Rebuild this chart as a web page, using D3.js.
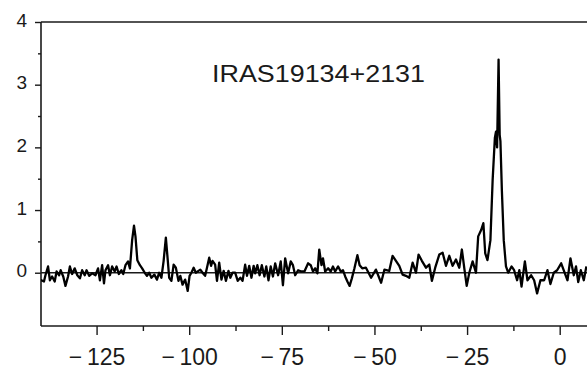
<!DOCTYPE html>
<html>
<head>
<meta charset="utf-8">
<script src="https://cdn.jsdelivr.net/npm/d3@7"></script>
<style>
  html, body { margin: 0; padding: 0; background: #fff; }
  svg { display: block; font-family: "Liberation Sans", Arial, Helvetica, sans-serif; }
</style>
</head>
<body>
<svg id="chart" width="587" height="374"></svg>
<script>
// ---- data ----
const title = "IRAS19134+2131";
const xMajorTicks = [-125, -100, -75, -50, -25, 0];
const xMinorTicks = [-112.5, -87.5, -62.5, -37.5, -12.5];
const yMajorTicks = [0, 1, 2, 3, 4];
const yMinorTicks = [0.5, 1.5, 2.5, 3.5];

const velocity = [
-140.0,-139.9,-139.2,-138.8,-138.1,-137.6,-137.0,-136.3,-135.8,-135.1,
-134.7,-134.0,-133.4,-132.7,-132.2,-131.6,-130.9,-130.2,-129.5,-128.9,
-128.2,-127.7,-127.0,-126.2,-125.3,-124.6,-124.1,-123.5,-123.0,-122.6,
-121.9,-121.4,-120.8,-120.1,-119.6,-119.0,-118.3,-117.8,-117.2,-116.5,
-116.0,-115.4,-114.9,-114.5,-114.0,-113.3,-112.7,-112.0,-111.4,-110.8,
-110.2,-109.4,-108.7,-108.1,-107.5,-106.9,-106.3,-105.8,-105.4,-104.8,
-104.2,-103.6,-102.9,-102.4,-101.8,-101.1,-100.4,-99.9,-99.4,-98.8,
-98.2,-97.5,-97.0,-96.4,-95.7,-95.2,-94.6,-94.1,-93.7,-93.0,
-92.5,-91.9,-91.3,-90.7,-90.1,-89.4,-88.9,-88.3,-87.6,-86.9,
-86.2,-85.6,-84.9,-84.4,-83.8,-83.2,-82.6,-82.2,-81.6,-81.0,
-80.4,-79.7,-79.2,-78.6,-78.0,-77.4,-76.8,-76.0,-75.3,-74.7,
-74.1,-73.3,-72.6,-72.0,-71.4,-70.6,-69.7,-68.9,-67.9,-67.2,
-66.6,-66.0,-65.4,-64.9,-64.3,-63.9,-63.3,-62.5,-61.8,-61.2,
-60.6,-59.8,-59.1,-58.5,-57.9,-57.3,-56.7,-56.1,-55.4,-54.6,
-54.0,-53.3,-52.3,-50.9,-49.6,-48.2,-47.3,-46.0,-45.1,-44.2,
-43.3,-42.4,-41.5,-40.6,-39.7,-38.8,-38.1,-37.2,-36.1,-35.2,
-34.5,-33.6,-32.5,-31.6,-30.7,-29.8,-28.9,-28.0,-27.1,-26.4,
-25.7,-25.1,-24.4,-23.5,-22.6,-22.0,-21.2,-20.6,-20.1,-19.5,
-18.7,-18.1,-17.5,-17.2,-16.9,-16.5,-16.2,-16.0,-15.6,-15.1,
-14.5,-13.9,-13.0,-12.3,-11.5,-10.9,-10.3,-9.4,-8.7,-7.7,
-6.9,-6.1,-5.2,-4.2,-3.3,-2.5,-1.6,-0.7,0.4,1.2,
2.1,2.9,3.8,4.4,5.0,5.7,6.5,7.2
];
const intensity = [
-0.12,-0.12,-0.14,-0.04,0.10,-0.12,-0.06,-0.14,0.02,-0.04,
0.04,-0.06,-0.21,-0.06,0.10,-0.02,0.07,-0.04,-0.09,0.04,
-0.04,0.04,-0.05,-0.01,-0.04,0.07,-0.12,0.12,-0.17,0.04,
0.12,-0.04,0.10,0.02,0.10,-0.02,0.04,-0.02,0.12,0.18,
0.07,0.52,0.75,0.58,0.20,0.12,0.07,0.00,-0.05,0.00,
-0.08,-0.03,-0.11,0.00,-0.08,0.19,0.56,0.21,-0.08,-0.13,
0.13,0.08,-0.13,-0.05,-0.19,-0.11,-0.29,-0.05,0.00,0.08,
0.00,0.03,0.05,0.00,-0.05,0.08,0.24,0.11,0.19,0.13,
-0.13,0.16,-0.11,0.03,-0.13,0.03,-0.08,0.00,0.00,-0.13,
-0.08,-0.13,0.13,-0.05,0.11,-0.08,0.11,-0.01,0.12,-0.04,
0.12,-0.06,0.10,-0.12,0.10,-0.06,0.15,-0.04,0.18,-0.20,
0.23,-0.01,0.18,0.12,-0.04,0.04,0.02,0.02,0.15,0.12,
0.02,0.07,-0.01,0.37,0.12,0.23,0.02,0.07,0.02,0.10,
0.02,0.10,0.02,0.04,-0.06,-0.14,-0.21,-0.09,0.07,0.28,
0.12,0.07,0.08,-0.08,0.05,-0.16,0.05,0.03,0.27,0.19,
0.11,-0.03,-0.05,-0.08,0.16,0.00,0.29,0.19,0.08,0.13,
-0.13,0.08,0.29,0.32,0.11,0.27,0.11,0.21,0.08,0.37,
0.05,-0.21,0.00,0.18,0.00,0.58,0.68,0.79,0.31,0.20,
0.52,1.48,2.15,2.25,2.00,3.40,2.20,2.10,1.30,0.52,
0.10,0.00,0.10,0.04,-0.12,0.04,-0.22,0.18,-0.12,-0.04,
-0.12,-0.33,-0.12,-0.12,0.04,-0.18,0.00,0.04,0.15,0.02,
-0.12,0.23,-0.04,0.10,-0.15,0.04,-0.12,0.10
];

// ---- layout ----
const W = 587, H = 374;
const plot = { left: 41, top: 22, bottom: 326, right: 596.75 };
const ink = "#1a1a1a";

const svg = d3.select("#chart");

const x = d3.scaleLinear().domain([-140, 10]).range([plot.left, plot.right]);
const y = d3.scaleLinear().domain([-0.85, 4]).range([plot.bottom, plot.top]);

// clip for data
svg.append("defs").append("clipPath").attr("id", "clip")
  .append("rect").attr("x", plot.left).attr("y", plot.top)
  .attr("width", plot.right - plot.left).attr("height", plot.bottom - plot.top);

// top frame line
svg.append("line").attr("x1", plot.left).attr("x2", W)
  .attr("y1", y(4)).attr("y2", y(4))
  .attr("stroke", ink).attr("stroke-width", 1.6);

// y axis (major + minor)
const yAxis = svg.append("g").attr("transform", `translate(${plot.left},0)`)
  .call(d3.axisLeft(y).tickValues(yMajorTicks).tickSize(6).tickPadding(8).tickFormat(d3.format("d")));
svg.append("g").attr("transform", `translate(${plot.left},0)`)
  .call(d3.axisLeft(y).tickValues(yMinorTicks).tickSize(3).tickFormat(""))
  .call(g => g.select(".domain").remove());

// x axis
const xAxis = svg.append("g").attr("transform", `translate(0,${plot.bottom})`)
  .call(d3.axisBottom(x).tickValues(xMajorTicks).tickSize(9).tickPadding(14)
    .tickFormat(d => d < 0 ? "\u2212\u2009" + Math.abs(d) : String(d)));
svg.append("g").attr("transform", `translate(0,${plot.bottom})`)
  .call(d3.axisBottom(x).tickValues(xMinorTicks).tickSize(5).tickFormat(""))
  .call(g => g.select(".domain").remove());

// style axes
svg.selectAll(".domain").attr("stroke", ink).attr("stroke-width", 1.6);
svg.selectAll(".tick line").attr("stroke", ink).attr("stroke-width", 1.4);
yAxis.selectAll(".domain").attr("d", `M0,${y(4)}V${plot.bottom}`);
xAxis.selectAll(".domain").attr("d", `M${plot.left},0H${W}`);
yAxis.selectAll(".tick text").attr("font-size", 19).attr("fill", ink)
  .attr("font-family", "'Liberation Sans', Arial, sans-serif").attr("dy", "0.22em");
xAxis.selectAll(".tick text").attr("font-size", 23).attr("fill", ink)
  .attr("font-family", "'Liberation Sans', Arial, sans-serif");

// zero line
svg.append("line").attr("x1", plot.left).attr("x2", W)
  .attr("y1", y(0)).attr("y2", y(0)).attr("stroke", ink).attr("stroke-width", 1.6);

// spectrum
const data = d3.zip(velocity, intensity);
svg.append("path").datum(data)
  .attr("clip-path", "url(#clip)")
  .attr("fill", "none").attr("stroke", "#000").attr("stroke-width", 2.3)
  .attr("stroke-linejoin", "round")
  .attr("d", d3.line().x(d => x(d[0])).y(d => y(d[1])));

// title
svg.append("text").attr("x", 212).attr("y", 82)
  .attr("font-size", 23).attr("fill", ink)
  .attr("textLength", 213).attr("lengthAdjust", "spacingAndGlyphs")
  .text(title);
</script>
</body>
</html>
